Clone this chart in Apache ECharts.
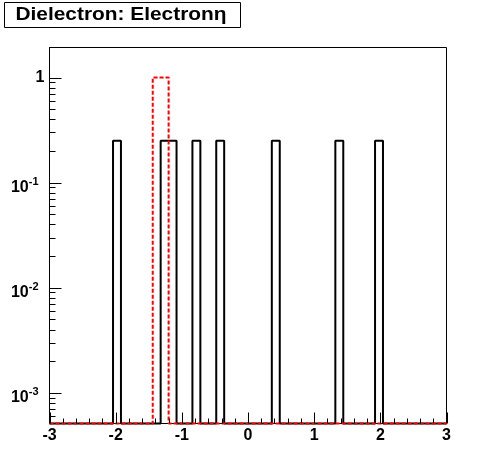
<!DOCTYPE html>
<html>
<head>
<meta charset="utf-8">
<script src="https://cdn.jsdelivr.net/npm/echarts@6/dist/echarts.min.js"></script>
<style>html,body{margin:0;padding:0;background:#fff}#c{width:496px;height:472px}</style>
</head>
<body>
<div id="c"></div>
<script>
// ---- data ----
const title = 'Dielectron: Electronη';
const binLow = -3;
const binWidth = 0.12;
const blackValues = [
  0,0,0,0,0, 0,0,0,0.25,0, 0,0,0,0,0.25, 0.25,0,0,0.25,0,
  0,0.25,0,0,0, 0,0,0,0.25,0, 0,0,0,0,0, 0,0.25,0,0,0,
  0,0.25,0,0,0, 0,0,0,0,0
];
const redValues = [
  0,0,0,0,0, 0,0,0,0,0, 0,0,0,1,1, 0,0,0,0,0,
  0,0,0,0,0, 0,0,0,0,0, 0,0,0,0,0, 0,0,0,0,0,
  0,0,0,0,0, 0,0,0,0,0
];
const xMin = -3, xMax = 3;
const yMin = 5.1e-4, yMax = 1.93;
const xTickValues = [-3, -2, -1, 0, 1, 2, 3];
const xTickLabels = ['-3','-2','-1','0','1','2','3'];
const yMajorTicks = [1e-3, 1e-2, 1e-1, 1];

function outline(vals) {
  const pts = [[binLow, yMin]];
  vals.forEach((v, i) => {
    const lo = +(binLow + i * binWidth).toFixed(4);
    const hi = +(binLow + (i + 1) * binWidth).toFixed(4);
    const y = v > 0 ? v : yMin;
    pts.push([lo, y]); pts.push([hi, y]);
  });
  pts.push([binLow + vals.length * binWidth, yMin]);
  return pts;
}

// y minor tick values (2..9 x 10^k) inside range
const yMinor = [];
for (let k = -4; k <= 0; k++) {
  for (let m = 2; m <= 9; m++) {
    const v = m * Math.pow(10, k);
    if (v > yMin && v < yMax) yMinor.push(v);
  }
}
// x ticks every 0.2 (major at integers)
const xTicks = [];
for (let i = 0; i <= 30; i++) xTicks.push(+(xMin + i * 0.2).toFixed(2));

const chart = echarts.init(document.getElementById('c'), null, {renderer: 'canvas'});
const FONT = 'Liberation Sans, Arial, sans-serif';
chart.setOption({
  animation: false,
  backgroundColor: '#fff',
  grid: {left: 49.5, right: 49.5, top: 47.5, bottom: 48.5, show: true, borderColor: '#000', borderWidth: 1, backgroundColor: 'transparent'},
  xAxis: {
    type: 'value', min: xMin, max: xMax, interval: 1,
    axisLine: {show: true, onZero: false, lineStyle: {color: '#000', width: 1}},
    axisTick: {show: false},
    minorTick: {show: false},
    splitLine: {show: false},
    axisLabel: {show: false}
  },
  yAxis: {
    type: 'log', logBase: 10, min: yMin, max: yMax,
    axisLine: {show: true, onZero: false, lineStyle: {color: '#000', width: 1}},
    axisTick: {show: false},
    splitLine: {show: false},
    axisLabel: {margin: 5, color: '#000', fontFamily: FONT, fontWeight: 'bold', fontSize: 16,
      formatter: v => {
        const e = Math.log10(v);
        if (Math.abs(e - Math.round(e)) > 1e-6) return '';
        const n = Math.round(e);
        if (n === 0) return '{one|1}';
        return '{b|10}{s|' + n + '}';
      },
      rich: {
        one: {fontSize: 16, fontWeight: 'bold', fontFamily: FONT, color: '#000', lineHeight: 18},
        b: {fontSize: 16, fontWeight: 'bold', fontFamily: FONT, color: '#000', lineHeight: 26, verticalAlign: 'bottom'},
        s: {fontSize: 11, fontWeight: 'bold', fontFamily: FONT, color: '#000', verticalAlign: 'bottom', padding: [0, 6, 8, 0]}
      }
    }
  },
  series: [
    {
      type: 'line', data: outline(blackValues), showSymbol: false, symbol: 'none',
      lineStyle: {color: '#000', width: 2}, clip: false, z: 3
    },
    {
      type: 'line', data: outline(redValues), showSymbol: false, symbol: 'none',
      lineStyle: {color: '#ff0000', width: 2, type: [4, 2]}, clip: false, z: 4
    }
  ]
});

// graphics: title box, x labels and ticks positioned through the axis scales
const x0 = chart.convertToPixel({xAxisIndex: 0}, xMin);
const yB = chart.convertToPixel({yAxisIndex: 0}, yMin);
const graphics = [
  {type: 'rect', shape: {x: 4.5, y: 2.5, width: 236, height: 25}, style: {fill: '#fff', stroke: '#000', lineWidth: 1}, z: 10},
  {type: 'text', x: 121, y: 15.5, scaleX: 1.16, originX: 0, style: {text: title, font: 'bold 18px ' + FONT, fill: '#000', align: 'center', verticalAlign: 'middle'}, z: 11}
];
function tickLine(x1, y1, x2, y2) {
  graphics.push({type: 'line', shape: {x1, y1, x2, y2}, style: {stroke: '#000', lineWidth: 1}, z: 5, silent: true});
}
yMinor.forEach(v => {
  const py = Math.round(chart.convertToPixel({yAxisIndex: 0}, v)) + 0.5;
  tickLine(x0, py, x0 + 6, py);
});
yMajorTicks.forEach(v => {
  const py = Math.round(chart.convertToPixel({yAxisIndex: 0}, v)) + 0.5;
  tickLine(x0, py, x0 + 12, py);
});
xTicks.forEach(v => {
  const px = Math.round(chart.convertToPixel({xAxisIndex: 0}, v)) + 0.5;
  const major = Math.abs(v - Math.round(v)) < 1e-6;
  tickLine(px, yB, px, yB - (major ? 11 : 5));
});
xTickValues.forEach((v, i) => {
  const px = chart.convertToPixel({xAxisIndex: 0}, v);
  graphics.push({type: 'text', x: px, y: yB + 12.5, style: {text: xTickLabels[i], font: 'bold 16px ' + FONT, fill: '#000', align: 'center', verticalAlign: 'middle'}, z: 6, silent: true});
});
chart.setOption({graphic: graphics});
</script>
</body>
</html>
